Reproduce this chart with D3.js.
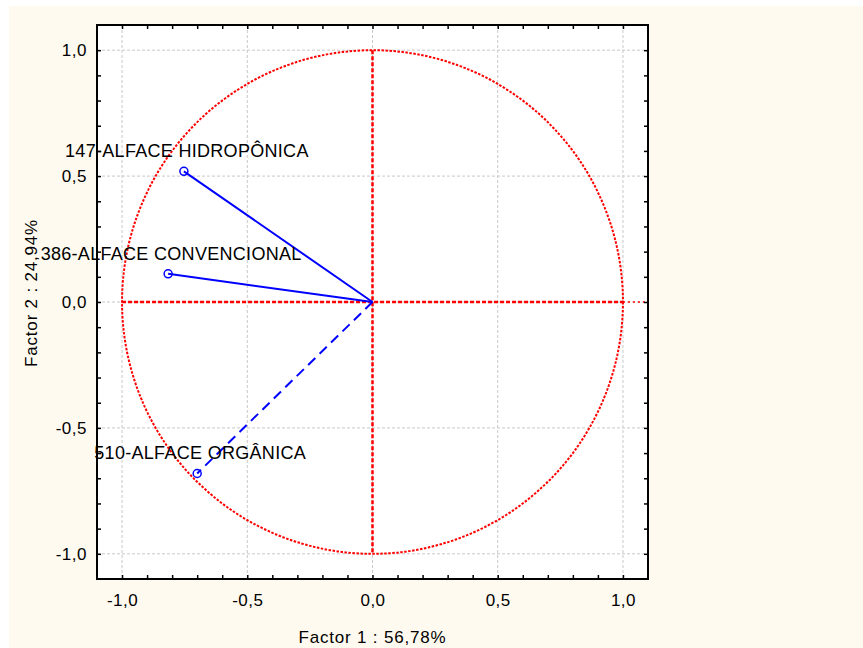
<!DOCTYPE html>
<html>
<head>
<meta charset="utf-8">
<script src="https://cdn.jsdelivr.net/npm/d3@7/dist/d3.min.js"></script>
<style>
	body { margin: 0; background: #fff; }
	text { font-family: "Liberation Sans", Arial, sans-serif; fill: #000; }
</style>
</head>
<body>
<svg id="chart" width="863" height="648"></svg>
<script>
// ***************** DATA ********************
var names = ["147-ALFACE HIDROPÔNICA", "386-ALFACE CONVENCIONAL", "510-ALFACE ORGÂNICA"];
var factor1 = [-0.753, -0.816, -0.700];
var factor2 = [0.519, 0.112, -0.681];
var dashedLine = [false, false, true];
var majorTicks = [-1, -0.5, 0, 0.5, 1];
var minorTicks = d3.range(-10, 11).map(function(i){ return i / 10 });
var xTitle = "Factor 1 : 56,78%";
var yTitle = "Factor 2 : 24,94%";

// ***************** SETUP ********************
var svg = d3.select("#chart");
var box = {left: 97, right: 648, top: 25, bottom: 579};

svg.append("rect")
	.attr("x", 9).attr("y", 6)
	.attr("width", 863 - 9).attr("height", 648 - 6)
	.attr("fill", "#fffaef");

var x = d3.scaleLinear().domain([-1.1, 1.1]).range([box.left, box.right]);
var y = d3.scaleLinear().domain([-1.1, 1.1]).range([box.bottom, box.top]);

svg.append("rect")
	.attr("x", box.left).attr("y", box.top)
	.attr("width", box.right - box.left).attr("height", box.bottom - box.top)
	.attr("fill", "#fff");

// ************************ GRID *************************
svg.selectAll(".gx").data(majorTicks).enter().append("line")
	.attr("x1", function(d){ return x(d) }).attr("x2", function(d){ return x(d) })
	.attr("y1", box.top).attr("y2", box.bottom)
	.attr("stroke", "#c8c8c8").attr("stroke-dasharray", "3,2");
svg.selectAll(".gy").data(majorTicks).enter().append("line")
	.attr("y1", function(d){ return y(d) }).attr("y2", function(d){ return y(d) })
	.attr("x1", box.left).attr("x2", box.right)
	.attr("stroke", "#c8c8c8").attr("stroke-dasharray", "3,2");

// ************************ UNIT CIRCLE + RED AXES *************************
svg.append("ellipse")
	.attr("cx", x(0)).attr("cy", y(0))
	.attr("rx", x(1) - x(0)).attr("ry", y(0) - y(1))
	.attr("fill", "none").attr("stroke", "#ff0000")
	.attr("stroke-width", 2).attr("stroke-dasharray", "2.5,1.5");

svg.append("line")
	.attr("x1", x(-1)).attr("x2", x(1))
	.attr("y1", y(0)).attr("y2", y(0))
	.attr("stroke", "#ff0000").attr("stroke-width", 2.5).attr("stroke-dasharray", "4,2");
svg.append("line")
	.attr("x1", x(1)).attr("x2", x(1.1))
	.attr("y1", y(0)).attr("y2", y(0))
	.attr("stroke", "#ff0000").attr("stroke-width", 1.5).attr("stroke-dasharray", "2,3");
svg.append("line")
	.attr("x1", x(0)).attr("x2", x(0))
	.attr("y1", y(1)).attr("y2", y(-1))
	.attr("stroke", "#ff0000").attr("stroke-width", 2.5).attr("stroke-dasharray", "4,2");

// ************************ VECTORS *************************
var points = names.map(function(n, i){
	return {name: n, fx: factor1[i], fy: factor2[i], dashed: dashedLine[i]};
});

svg.selectAll(".vec").data(points).enter().append("line")
	.attr("x1", x(0)).attr("y1", y(0))
	.attr("x2", function(d){ return x(d.fx) })
	.attr("y2", function(d){ return y(d.fy) })
	.attr("stroke", "#0000ff").attr("stroke-width", 2)
	.attr("stroke-dasharray", function(d){ return d.dashed ? "10,6" : null });

svg.selectAll(".pt").data(points).enter().append("circle")
	.attr("cx", function(d){ return x(d.fx) })
	.attr("cy", function(d){ return y(d.fy) })
	.attr("r", 4)
	.attr("fill", "none").attr("stroke", "#0000ff").attr("stroke-width", 1.5);

svg.selectAll(".lbl").data(points).enter().append("text")
	.attr("x", function(d){ return x(d.fx) + 3 })
	.attr("y", function(d){ return y(d.fy) - 14 })
	.attr("text-anchor", "middle")
	.style("font-size", "18px")
	.style("letter-spacing", "0.3px")
	.text(function(d){ return d.name });

// ************************ AXES *************************
var fmt = function(v){
	var major = Math.abs(v * 2 - Math.round(v * 2)) < 1e-6;
	return major ? v.toFixed(1).replace(".", ",") : "";
};

var styleAxis = function(g){
	g.select(".domain").remove();
	g.selectAll(".tick line").attr("stroke", "#000").attr("stroke-width", 1.5);
	g.selectAll("text")
		.style("font-size", "17px")
		.style("letter-spacing", "0.5px")
		.attr("fill", "#000");
};

svg.append("g").attr("transform", "translate(0," + box.bottom + ")")
	.call(d3.axisBottom(x).tickValues(minorTicks).tickSize(-4).tickPadding(15).tickFormat(fmt))
	.call(styleAxis);
svg.append("g").attr("transform", "translate(0," + box.top + ")")
	.call(d3.axisTop(x).tickValues(minorTicks).tickSize(-4).tickFormat(""))
	.call(styleAxis);
svg.append("g").attr("transform", "translate(" + box.left + ",0)")
	.call(d3.axisLeft(y).tickValues(minorTicks).tickSize(-4).tickPadding(10).tickFormat(fmt))
	.call(styleAxis);
svg.append("g").attr("transform", "translate(" + box.right + ",0)")
	.call(d3.axisRight(y).tickValues(minorTicks).tickSize(-4).tickFormat(""))
	.call(styleAxis);

svg.append("rect")
	.attr("x", box.left).attr("y", box.top)
	.attr("width", box.right - box.left).attr("height", box.bottom - box.top)
	.attr("fill", "none").attr("stroke", "#000").attr("stroke-width", 2);

// ************************ TITLES *************************
svg.append("text")
	.attr("x", x(0)).attr("y", 643)
	.attr("text-anchor", "middle")
	.style("font-size", "17px").style("letter-spacing", "0.8px")
	.text(xTitle);
svg.append("text")
	.attr("transform", "translate(37,293) rotate(-90)")
	.attr("text-anchor", "middle")
	.style("font-size", "17px").style("letter-spacing", "0.8px")
	.text(yTitle);
</script>
</body>
</html>
